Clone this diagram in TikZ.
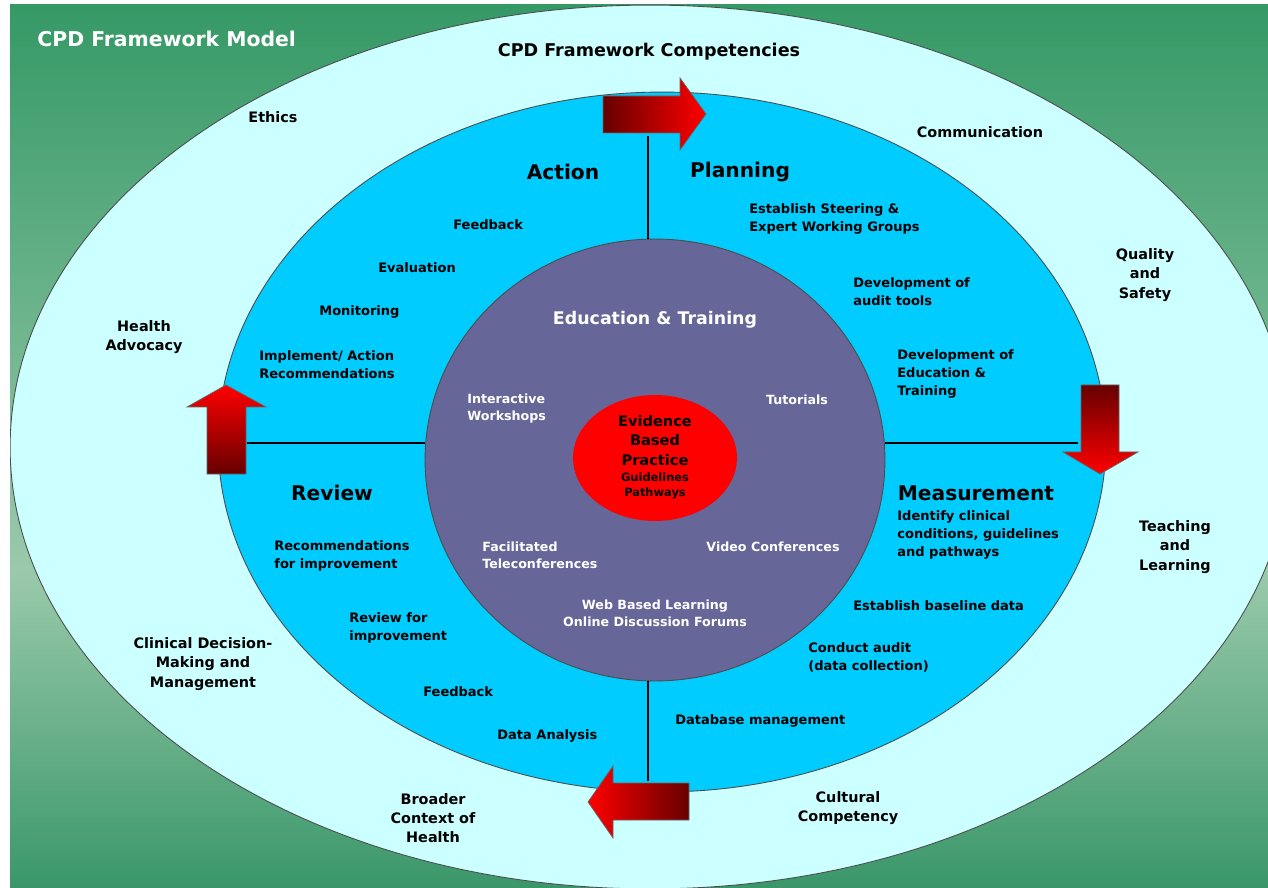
\documentclass[tikz,border=0pt]{standalone}
\usepackage{fontspec}
\setmainfont{DejaVu Sans}
\usetikzlibrary{shapes.geometric}
\definecolor{gTop}{HTML}{359966}
\definecolor{gMid}{HTML}{9ACAAB}
\definecolor{gBot}{HTML}{3A9769}
\definecolor{ringC}{HTML}{CCFFFF}
\definecolor{cycC}{HTML}{00CCFF}
\definecolor{eduC}{HTML}{666699}
\definecolor{darkR}{HTML}{660000}
\pgfdeclareverticalshading{bgGreen}{100bp}{color(0bp)=(gBot); color(25bp)=(gBot); color(43bp)=(gMid); color(75bp)=(gTop); color(100bp)=(gTop)}

\begin{document}
\begin{tikzpicture}[x=0.02cm,y=-0.02cm]
 \tikzset{ring/.style={font=\fontsize{8.2}{10.9}\selectfont\bfseries, align=center, inner sep=0pt},
  item/.style={font=\fontsize{7.4}{10.2}\selectfont\bfseries, align=left, anchor=west, inner sep=0pt},
  phase/.style={font=\fontsize{11.5}{13}\selectfont\bfseries, inner sep=0pt},
  mode/.style={font=\fontsize{7.2}{9.7}\selectfont\bfseries, text=white, align=left, inner sep=0pt},
  divider/.style={black, line width=0.6pt},
  turn/.style={draw=black!60, line width=0.4pt}}
 \useasboundingbox (0,0) rectangle (1268,888);
 \fill[white] (0,0) rectangle (1268,888);
 \begin{scope}
  \clip (10,5) rectangle (1268,888);
  \shade[shading=bgGreen] (10,5) rectangle (1268,888);
  \node[draw=black!70, line width=0.5pt, fill=ringC, ellipse, inner sep=0pt,
   minimum width=25.6cm, minimum height=17.68cm] (Out) at (650,447) {};
 \end{scope}
 \node[draw=black!70, line width=0.5pt, fill=cycC, ellipse, inner sep=0pt,
  minimum width=17.76cm, minimum height=14cm] (Mid) at (662,442) {};
 \node[draw=black!70, line width=0.5pt, fill=eduC, ellipse, inner sep=0pt,
  minimum width=9.2cm, minimum height=8.84cm] (Edu) at (655,460) {};
 \node[fill=red, ellipse, inner sep=0pt,
  minimum width=3.28cm, minimum height=2.52cm] (EBP) at (655,458) {};
 % dividers between the four phases
 \coordinate (VT) at (648,136);
 \coordinate (VB) at (648,781);
 \coordinate (HL) at (247,443);
 \coordinate (HR) at (1078,443);
 \draw[divider] (VT) -- (VT |- Edu.north);
 \draw[divider] (VB) -- (VB |- Edu.south);
 \draw[divider] (HL) -- (Edu.west |- HL);
 \draw[divider] (HR) -- (Edu.east |- HR);
 % cycle arrows
 \draw[turn, left color=darkR, right color=red] (603,96) -- (680,96) -- (680,78) -- (706,114)
  -- (680,150) -- (680,133) -- (603,133) -- cycle;
 \draw[turn, top color=darkR, bottom color=red] (1081,385) -- (1119,385) -- (1119,452) -- (1138,452)
  -- (1100,474) -- (1063,452) -- (1081,452) -- cycle;
 \draw[turn, left color=red, right color=darkR] (689,783) -- (613,783) -- (613,766) -- (588,802)
  -- (613,838) -- (613,820) -- (689,820) -- cycle;
 \draw[turn, top color=red, bottom color=darkR] (207,474) -- (207,407) -- (187,407) -- (226,385)
  -- (266,407) -- (246,407) -- (246,474) -- cycle;
 % titles
 \node[anchor=west, inner sep=0pt, text=white, font=\fontsize{11.6}{14}\selectfont\bfseries] (M) at (37,39) {CPD Framework Model};
 \node[inner sep=0pt, font=\fontsize{10}{12}\selectfont\bfseries] (C0) at (649,52) {CPD Framework Competencies};
 % competencies
 \node[ring] (C1) at (273,117) {Ethics};
 \node[ring] (C2) at (980,132) {Communication};
 \node[ring] (C3) at (1145,275) {Quality\\and\\Safety};
 \node[ring] (C4) at (144,337) {Health\\Advocacy};
 \node[ring] (C5) at (1175,547) {Teaching\\and\\Learning};
 \node[ring] (C6) at (203,664) {Clinical Decision-\\Making and\\Management};
 \node[ring] (C7) at (433,818) {Broader\\Context of\\Health};
 \node[ring] (C8) at (848,808) {Cultural\\Competency};
 % phases
 \node[phase] (P1) at (563,172) {Action};
 \node[phase] (P2) at (740,172) {Planning};
 \node[phase] (P3) at (332,493) {Review};
 \node[phase] (P4) at (976,493) {Measurement};
 \node[item] (A1) at (453,225) {Feedback};
 \node[item] (A2) at (378,268) {Evaluation};
 \node[item] (A3) at (319,312) {Monitoring};
 \node[item] (A4) at (259,365) {Implement/ Action\\Recommendations};
 \node[item] (B1) at (749,219) {Establish Steering \&\\Expert Working Groups};
 \node[item] (B2) at (853,291.5) {Development of\\audit tools};
 \node[item] (B3) at (897,374) {Development of\\Education \&\\Training};
 \node[item] (D1) at (897,535) {Identify clinical\\conditions, guidelines\\and pathways};
 \node[item] (D2) at (853,606) {Establish baseline data};
 \node[item] (D3) at (808,657.5) {Conduct audit\\(data collection)};
 \node[item] (D4) at (675,721) {Database management};
 \node[item] (R1) at (274,555.5) {Recommendations\\for improvement};
 \node[item] (R2) at (349,628) {Review for\\improvement};
 \node[item] (R3) at (423,692) {Feedback};
 \node[item] (R4) at (497,736) {Data Analysis};
 % education and training
 \node[inner sep=0pt, text=white, font=\fontsize{9.9}{12}\selectfont\bfseries] (E0) at (655,320) {Education \& Training};
 \node[mode, anchor=west] (E1) at (467,408.5) {Interactive\\Workshops};
 \node[mode] (E2) at (797,400) {Tutorials};
 \node[mode, anchor=west] (E3) at (482,555.5) {Facilitated\\Teleconferences};
 \node[mode] (E4) at (773,547) {Video Conferences};
 \node[mode, align=center] (E5) at (655,613.5) {Web Based Learning\\Online Discussion Forums};
 % evidence based practice
 \node[inner sep=0pt, align=center, font=\fontsize{8.3}{11.1}\selectfont\bfseries] (T1) at (655,440.5) {Evidence\\Based\\Practice};
 \node[inner sep=0pt, align=center, font=\fontsize{6.5}{8.5}\selectfont\bfseries] (T2) at (655,485.5) {Guidelines\\Pathways};
\end{tikzpicture}
\end{document}
